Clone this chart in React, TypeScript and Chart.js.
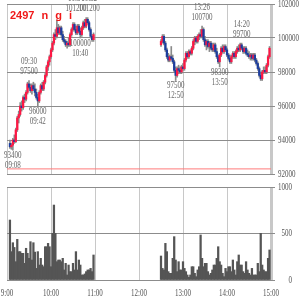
import React, { useEffect, useRef } from 'react';
import { Chart, registerables } from 'chart.js';

Chart.register(...registerables);

// ---- data ----
const title = '2497 n g i';
const prevClose = 92300;
const priceTicks = [92000, 94000, 96000, 98000, 100000, 102000];
const volumeTicks = [0, 500, 1000];
const timeTickMinutes = [0, 60, 120, 180, 240, 300, 360];
const timeTickLabels = ['9:00', '10:00', '11:00', '12:00', '13:00', '14:00', '15:00'];

const amStart = 4; // minutes after 9:00
const pmStart = 210; // 12:30
const barStep = 2; // minutes per bar

const amOpen = [93800, 93600, 93700, 94000, 93900, 94600, 95300, 95500, 96000, 95900, 96500, 96400, 96800, 97300, 97100, 96900, 97200, 97000, 96800, 96500, 96300, 96800, 97200, 97000, 97400, 97800, 98300, 98600, 98900, 99300, 99700, 100200, 100100, 100600, 100300, 100600, 100200, 99900, 99800, 99600, 99700, 99600, 100200, 100500, 100800, 100500, 100300, 100700, 100400, 100200, 100600, 100900, 100700, 101100, 100900, 100500, 100100, 99900];
const amHigh = [94000, 93800, 94100, 94300, 94700, 95400, 95700, 96200, 96300, 96600, 96700, 96900, 97400, 97500, 97300, 97300, 97400, 97300, 97000, 96700, 96900, 97300, 97400, 97500, 97900, 98400, 98700, 99000, 99400, 99800, 100300, 100500, 101050, 100800, 100700, 100700, 100400, 100100, 99900, 99800, 100000, 100300, 100600, 100900, 100900, 100700, 100800, 100800, 100600, 100700, 101000, 101100, 101200, 101200, 101000, 100600, 100200, 100300];
const amLow = [93500, 93450, 93400, 93800, 93850, 94500, 95000, 95400, 95700, 95800, 96200, 96300, 96700, 97000, 96800, 96700, 96900, 96600, 96400, 96000, 96200, 96700, 96900, 96900, 97300, 97700, 98100, 98400, 98800, 99200, 99600, 99900, 100000, 100200, 100200, 100100, 99800, 99700, 99500, 99400, 99500, 99500, 100100, 100400, 100400, 100200, 100200, 100300, 100000, 100100, 100500, 100600, 100600, 100800, 100400, 100000, 99800, 99800];
const amClose = [93600, 93700, 94000, 93900, 94600, 95300, 95500, 96000, 95900, 96500, 96400, 96800, 97300, 97100, 96900, 97200, 97000, 96800, 96500, 96300, 96800, 97200, 97000, 97400, 97800, 98300, 98600, 98900, 99300, 99700, 100200, 100100, 100600, 100300, 100600, 100200, 99900, 99800, 99600, 99700, 99600, 100200, 100500, 100800, 100500, 100300, 100700, 100400, 100200, 100600, 100900, 100700, 101100, 100900, 100500, 100100, 99900, 100200];
const amVolume = [645, 305, 401, 350, 197, 437, 305, 305, 287, 287, 179, 341, 287, 233, 412, 215, 401, 300, 125, 305, 161, 233, 161, 143, 358, 358, 394, 358, 143, 502, 806, 502, 197, 215, 215, 197, 233, 108, 179, 54, 161, 90, 90, 179, 108, 305, 108, 215, 161, 54, 54, 65, 90, 108, 108, 125, 90, 269];

const pmOpen = [99600, 99800, 100100, 99700, 99300, 98900, 98700, 98900, 98800, 98600, 98100, 97800, 98200, 98100, 98000, 98300, 98200, 98700, 99100, 98900, 99200, 99100, 99400, 99800, 100000, 99800, 100100, 100200, 100100, 100500, 99900, 99600, 99800, 99500, 99700, 99400, 99300, 99600, 99200, 98900, 98600, 99000, 99400, 99200, 99500, 99300, 99000, 98800, 98600, 98900, 99100, 98900, 99200, 99400, 99300, 99600, 99400, 99200, 99400, 99100, 99000, 98900, 99000, 98800, 99000, 98700, 98500, 98200, 97800, 97600, 98000, 98100, 98000, 98400, 98900];
const pmHigh = [99900, 100200, 100200, 99800, 99400, 99100, 99000, 99500, 99000, 98700, 98300, 98300, 98400, 98300, 98400, 98500, 98800, 99200, 99200, 99300, 99300, 99500, 99900, 100100, 100100, 100200, 100300, 100500, 100700, 100600, 100100, 99900, 99900, 99800, 99800, 99700, 99700, 99700, 99400, 99000, 99100, 99500, 99600, 99600, 99600, 99400, 99100, 99000, 99000, 99200, 99200, 99300, 99500, 99600, 99700, 99700, 99500, 99500, 99500, 99300, 99200, 99100, 99100, 99100, 99100, 98800, 98600, 98300, 98000, 98100, 98300, 98300, 98500, 99000, 99500];
const pmLow = [99500, 99700, 99600, 99200, 98800, 98600, 98600, 98700, 98500, 98000, 97500, 97700, 97900, 97900, 97900, 98100, 98100, 98600, 98800, 98800, 99000, 99000, 99300, 99600, 99700, 99700, 99900, 100000, 100000, 99800, 99500, 99300, 99400, 99200, 99300, 99200, 99200, 99100, 98800, 98500, 98300, 98900, 99100, 99100, 99200, 98900, 98700, 98500, 98500, 98800, 98800, 98800, 99100, 99200, 99200, 99300, 99100, 99100, 99000, 98900, 98800, 98700, 98700, 98700, 98600, 98400, 98100, 97700, 97500, 97500, 97900, 97900, 97900, 98300, 98800];
const pmClose = [99800, 100100, 99700, 99300, 98900, 98700, 98900, 98800, 98600, 98100, 97800, 98200, 98100, 98000, 98300, 98200, 98700, 99100, 98900, 99200, 99100, 99400, 99800, 100000, 99800, 100100, 100200, 100100, 100500, 99900, 99600, 99800, 99500, 99700, 99400, 99300, 99600, 99200, 98900, 98600, 99000, 99400, 99200, 99500, 99300, 99000, 98800, 98600, 98900, 99100, 98900, 99200, 99400, 99300, 99600, 99400, 99200, 99400, 99100, 99000, 98900, 99000, 98800, 99000, 98700, 98500, 98200, 97800, 97600, 98000, 98100, 98000, 98400, 98900, 99400];
const pmVolume = [258, 125, 108, 394, 305, 90, 72, 72, 233, 466, 215, 90, 197, 108, 108, 197, 125, 90, 54, 29, 54, 143, 143, 72, 36, 108, 143, 484, 233, 143, 179, 179, 90, 54, 72, 108, 161, 161, 233, 358, 197, 161, 72, 36, 125, 90, 143, 143, 90, 215, 108, 54, 197, 269, 161, 161, 90, 72, 197, 108, 72, 54, 125, 54, 54, 54, 179, 90, 502, 161, 108, 90, 90, 233, 323];

const noteTimes = ['09:08', '09:30', '09:42', '10:34', '10:52', '10:40', '12:50', '13:26', '13:50', '14:20'];
const notePrices = [93400, 97500, 96000, 101200, 101200, 100000, 97500, 100700, 98300, 99700];
const notePlace = ['below', 'above', 'below', 'above', 'above', 'below', 'below', 'above', 'below', 'above'];

// ---- styles ----
const UP = '#ff1744';
const DOWN = '#1b3d9e';
const WICK = '#8a8a8a';
const VOL = '#555555';
const HGRID = '#8c8c8c';
const VGRID = '#c8c8c8';
const TICK = '#555555';
const NOTE = '#666666';

const times = [
  ...amClose.map((_, i) => amStart + i * barStep),
  ...pmClose.map((_, i) => pmStart + i * barStep),
];
const opens = [...amOpen, ...pmOpen];
const highs = [...amHigh, ...pmHigh];
const lows = [...amLow, ...pmLow];
const closes = [...amClose, ...pmClose];
const volumes = [...amVolume, ...pmVolume];

function drawCondensed(ctx: CanvasRenderingContext2D, text: string, x: number, y: number, align: CanvasTextAlign, color: string) {
  ctx.save();
  ctx.translate(x, y);
  ctx.scale(0.7, 1);
  ctx.font = '10px "Liberation Serif", serif';
  ctx.fillStyle = color;
  ctx.textAlign = align;
  ctx.textBaseline = 'middle';
  ctx.fillText(text, 0, 0);
  ctx.restore();
}

function toMinutes(t: string) {
  const [h, m] = t.split(':').map(Number);
  return (h - 9) * 60 + m;
}

const vLineWidth = (c: any) => (c.tick && c.tick.value === 360 ? 3 : 1);

export default function App() {
  const priceRef = useRef<HTMLCanvasElement>(null);
  const volRef = useRef<HTMLCanvasElement>(null);

  useEffect(() => {
    document.body.style.margin = '0';

    const pricePlugin = {
      id: 'priceText',
      afterDraw(chart: any) {
        const { ctx, chartArea } = chart;
        const xs = chart.scales.x;
        const ys = chart.scales.y;
        priceTicks.forEach((p) => drawCondensed(ctx, String(p), chartArea.right + 7, ys.getPixelForValue(p), 'left', TICK));
        noteTimes.forEach((t, i) => {
          const px = xs.getPixelForValue(toMinutes(t));
          const py = ys.getPixelForValue(notePrices[i]);
          const priceText = String(notePrices[i]);
          if (notePlace[i] === 'above') {
            drawCondensed(ctx, t, px, py - 19, 'center', NOTE);
            drawCondensed(ctx, priceText, px, py - 9, 'center', NOTE);
          } else {
            drawCondensed(ctx, priceText, px, py + 5, 'center', NOTE);
            drawCondensed(ctx, t, px, py + 15, 'center', NOTE);
          }
        });
        ctx.save();
        ctx.font = 'bold 11px "Liberation Sans", sans-serif';
        try { (ctx as any).wordSpacing = '4px'; } catch (e) {}
        ctx.fillStyle = '#f01818';
        ctx.textAlign = 'left';
        ctx.textBaseline = 'alphabetic';
        ctx.fillText(title, 10, 19);
        ctx.restore();
      },
    };

    const volPlugin = {
      id: 'volText',
      afterDraw(chart: any) {
        const { ctx, chartArea } = chart;
        const xs = chart.scales.x;
        const ys = chart.scales.y;
        volumeTicks.forEach((v) => drawCondensed(ctx, String(v), chartArea.right + 21, ys.getPixelForValue(v), 'right', TICK));
        timeTickMinutes.forEach((m, i) => drawCondensed(ctx, timeTickLabels[i], xs.getPixelForValue(m), chartArea.bottom + 13, 'center', TICK));
      },
    };

    const priceChart = new Chart(priceRef.current as HTMLCanvasElement, {
      type: 'bar',
      data: {
        datasets: [
          {
            type: 'line',
            data: [{ x: 0, y: prevClose }, { x: 360, y: prevClose }],
            borderColor: '#ff7a7a',
            borderWidth: 1,
            pointRadius: 0,
            order: 3,
          } as any,
          {
            data: times.map((t, i) => ({ x: t, y: [lows[i], highs[i]] })),
            backgroundColor: WICK,
            barThickness: 1,
            grouped: false,
            order: 2,
          } as any,
          {
            data: times.map((t, i) => ({ x: t, y: [opens[i], closes[i]] })),
            backgroundColor: (c: any) => (closes[c.dataIndex] >= opens[c.dataIndex] ? UP : DOWN),
            barThickness: 1.6,
            grouped: false,
            order: 1,
          } as any,
        ],
      },
      options: {
        animation: false,
        responsive: false,
        plugins: { legend: { display: false }, tooltip: { enabled: false } },
        layout: { padding: { left: 7, right: 0, top: 4, bottom: 6 } },
        scales: {
          x: {
            type: 'linear',
            min: 0,
            max: 360,
            offset: false,
            ticks: { display: false, stepSize: 60 },
            grid: { color: VGRID, lineWidth: vLineWidth, drawTicks: false, offset: false },
            border: { display: false },
            afterFit: (s: any) => { s.height = 0; },
          },
          y: {
            position: 'right',
            min: 92000,
            max: 102000,
            ticks: { display: false, stepSize: 2000 },
            grid: { color: HGRID, tickLength: 4 },
            border: { display: false },
            afterFit: (s: any) => { s.width = 29; },
          },
        },
      } as any,
      plugins: [pricePlugin],
    });

    const volChart = new Chart(volRef.current as HTMLCanvasElement, {
      type: 'bar',
      data: {
        datasets: [
          {
            data: times.map((t, i) => ({ x: t, y: volumes[i] })),
            backgroundColor: VOL,
            barThickness: 1.6,
          } as any,
        ],
      },
      options: {
        animation: false,
        responsive: false,
        plugins: { legend: { display: false }, tooltip: { enabled: false } },
        layout: { padding: { left: 7, right: 0, top: 7, bottom: 0 } },
        scales: {
          x: {
            type: 'linear',
            min: 0,
            max: 360,
            offset: false,
            ticks: { display: false, stepSize: 60 },
            grid: { color: VGRID, lineWidth: vLineWidth, drawTicks: false, offset: false },
            border: { display: false },
            afterFit: (s: any) => { s.height = 20; },
          },
          y: {
            position: 'right',
            min: 0,
            max: 1000,
            ticks: { display: false, stepSize: 500 },
            grid: { color: HGRID, tickLength: 4 },
            border: { display: false },
            afterFit: (s: any) => { s.width = 29; },
          },
        },
      } as any,
      plugins: [volPlugin],
    });

    return () => {
      priceChart.destroy();
      volChart.destroy();
    };
  }, []);

  return (
    <div style={{ position: 'fixed', left: 0, top: 0, width: 300, height: 300, background: '#fff' }}>
      <canvas ref={priceRef} width={300} height={180} style={{ position: 'absolute', left: 0, top: 0, display: 'block' }} />
      <canvas ref={volRef} width={300} height={120} style={{ position: 'absolute', left: 0, top: 180, display: 'block' }} />
    </div>
  );
}
